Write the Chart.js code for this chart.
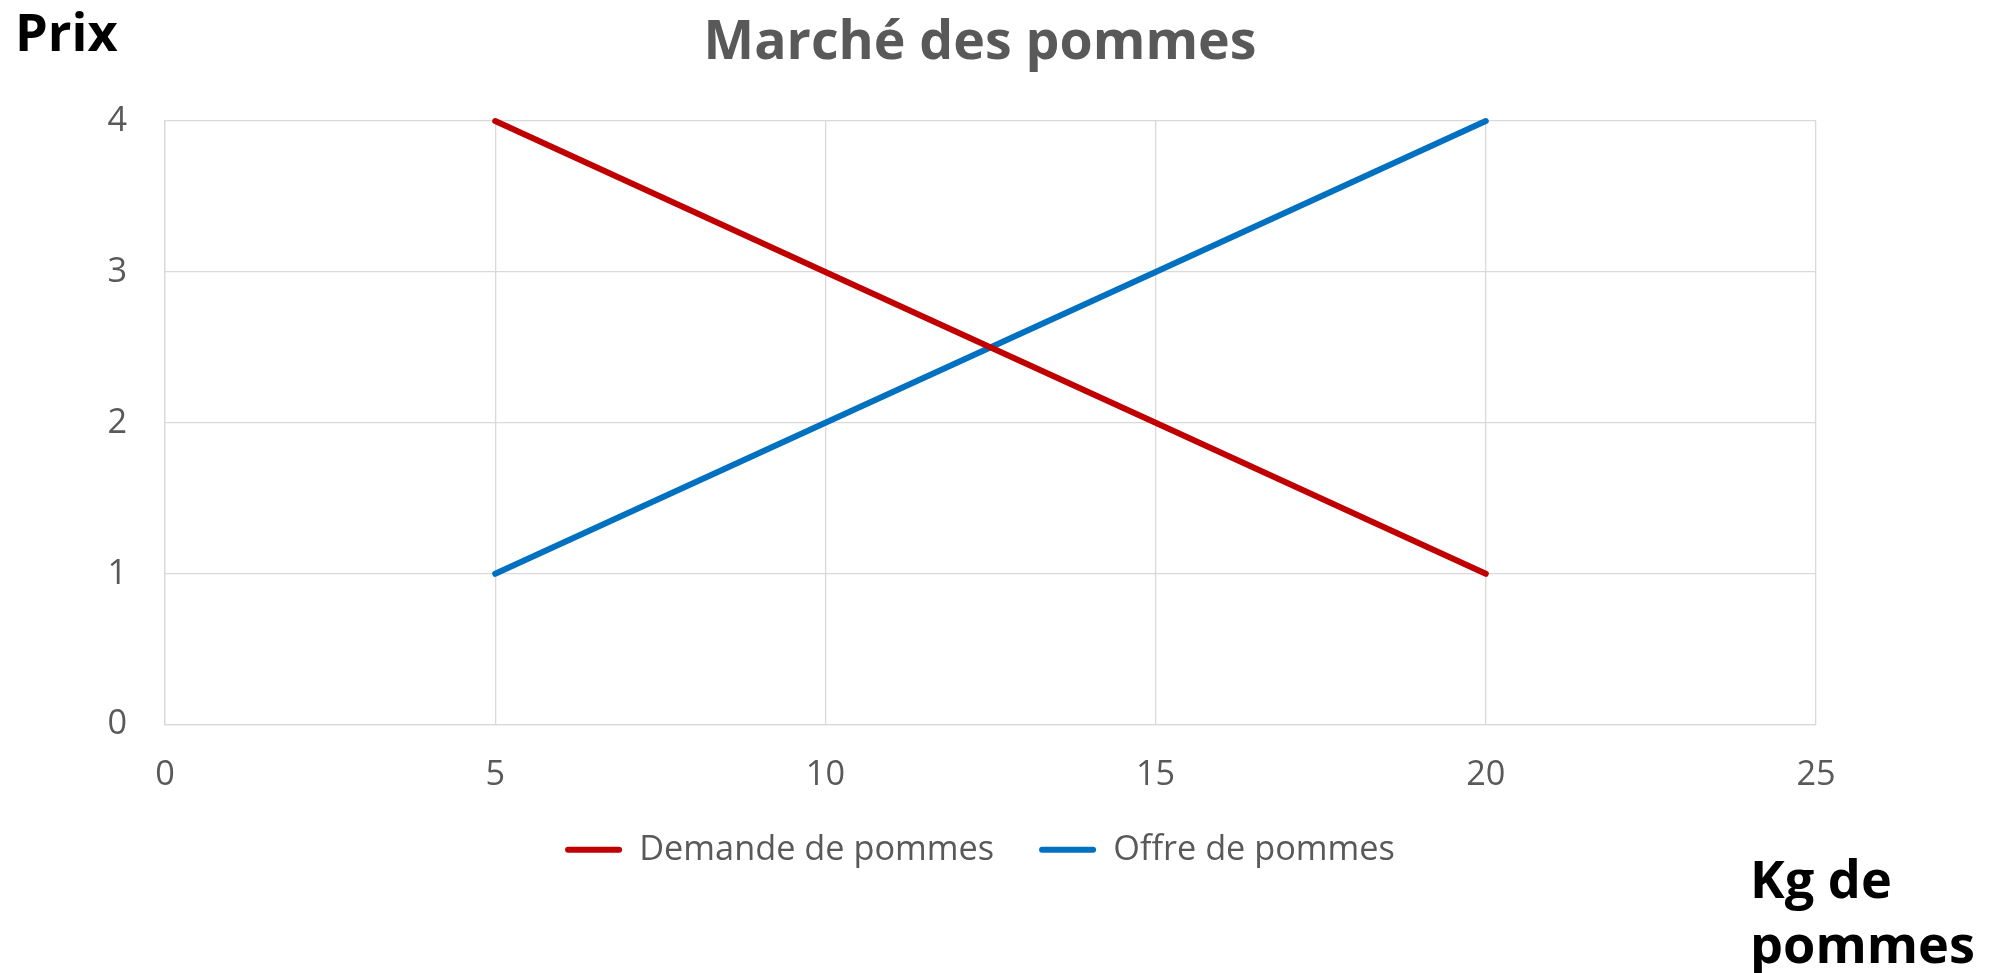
<!DOCTYPE html>
<html>
<head>
<meta charset="utf-8">
<script src="https://cdn.jsdelivr.net/npm/chart.js@4.4.0/dist/chart.umd.min.js"></script>
<style>
html,body{margin:0;padding:0;background:#ffffff;overflow:hidden}
#wrap{position:relative;width:2003px;height:973px}
</style>
</head>
<body>
<div id="wrap"><canvas id="c" width="2003" height="973"></canvas></div>
<script>
// ---- data ----
const titleText = 'Marché des pommes';
const yAxisLabel = 'Prix';
const xAxisLabelLines = ['Kg de', 'pommes'];
const seriesNames = ['Demande de pommes', 'Offre de pommes'];
const quantities = [5, 10, 15, 20];
const demandPrices = [4, 3, 2, 1];
const supplyPrices = [1, 2, 3, 4];
const xTickValues = [0, 5, 10, 15, 20, 25];
const yTickValues = [0, 1, 2, 3, 4];

// ---- styling ----
const FAMILY = '"Open Sans", "Liberation Sans", sans-serif';
const TEXT_GREY = '#595959';
const GRID = '#d9d9d9';
const RED = '#C00000';
const BLUE = '#0070C0';

function fitSize(text, weight, targetWidth) {
  const ctx = document.createElement('canvas').getContext('2d');
  ctx.font = weight + ' 100px ' + FAMILY;
  return 100 * targetWidth / ctx.measureText(text).width;
}
const regSize = fitSize(seriesNames[0], 'normal', 355);
const titleSize = fitSize(titleText, 'bold', 553);
const labelSize = fitSize('pommes', 'bold', 225);

const titleLH = titleSize * 1.2;
const titlePadTop = 44 - titleLH / 2;
const titlePadBottom = 121 - titlePadTop - titleLH;

const axisTextPlugin = {
  id: 'axisText',
  afterDraw(chart) {
    const ctx = chart.ctx;
    ctx.save();
    ctx.fillStyle = '#000000';
    ctx.font = 'bold ' + labelSize + 'px ' + FAMILY;
    ctx.textBaseline = 'alphabetic';
    ctx.textAlign = 'left';
    ctx.fillText(yAxisLabel, 15, 51);
    ctx.fillText(xAxisLabelLines[0], 1750, 898);
    ctx.fillText(xAxisLabelLines[1], 1750, 963);
    ctx.restore();
  }
};

const toPoints = (xs, ys) => xs.map((x, i) => ({x: x, y: ys[i]}));

function lineDataset(label, data, color) {
  return {
    label: label,
    data: data,
    showLine: true,
    borderColor: color,
    backgroundColor: color,
    borderWidth: 6,
    pointRadius: 0,
    pointHoverRadius: 0,
    borderCapStyle: 'round',
    borderJoinStyle: 'round',
    tension: 0,
    clip: false
  };
}

new Chart(document.getElementById('c'), {
  type: 'scatter',
  data: {
    datasets: [
      lineDataset(seriesNames[0], toPoints(quantities, demandPrices), RED),
      lineDataset(seriesNames[1], toPoints(quantities, supplyPrices), BLUE)
    ]
  },
  options: {
    responsive: false,
    animation: false,
    devicePixelRatio: 1,
    events: [],
    layout: { padding: { left: 0, right: 43, top: 0, bottom: 96 } },
    scales: {
      x: {
        type: 'linear',
        min: xTickValues[0],
        max: xTickValues[xTickValues.length - 1],
        afterBuildTicks: (s) => { s.ticks = xTickValues.map(v => ({value: v})); },
        ticks: { color: TEXT_GREY, font: { family: FAMILY, size: regSize }, padding: 30, maxRotation: 0 },
        grid: { color: GRID, lineWidth: 1.3, drawTicks: false },
        border: { color: GRID, width: 1.3 },
        afterFit: (s) => { s.height = 63; s.paddingRight = 187; }
      },
      y: {
        type: 'linear',
        min: yTickValues[0],
        max: yTickValues[yTickValues.length - 1],
        afterBuildTicks: (s) => { s.ticks = yTickValues.map(v => ({value: v})); },
        ticks: { color: TEXT_GREY, font: { family: FAMILY, size: regSize }, padding: 38 },
        grid: { color: GRID, lineWidth: 1.3, drawTicks: false },
        border: { color: GRID, width: 1.3 },
        afterFit: (s) => { s.width = 165; }
      }
    },
    plugins: {
      title: {
        display: true,
        text: titleText,
        color: TEXT_GREY,
        font: { family: FAMILY, size: titleSize, weight: 'bold', lineHeight: 1.2 },
        padding: { top: titlePadTop, bottom: titlePadBottom }
      },
      legend: {
        display: true,
        position: 'bottom',
        labels: {
          color: TEXT_GREY,
          font: { family: FAMILY, size: regSize },
          boxWidth: 57,
          boxHeight: 6,
          padding: 45,
          generateLabels: (chart) => chart.data.datasets.map((ds, i) => ({
            text: ds.label,
            fillStyle: ds.borderColor,
            strokeStyle: ds.borderColor,
            lineWidth: 0,
            borderRadius: 3,
            fontColor: TEXT_GREY,
            hidden: false,
            datasetIndex: i
          }))
        }
      },
      tooltip: { enabled: false }
    }
  },
  plugins: [axisTextPlugin]
});
</script>
</body>
</html>
